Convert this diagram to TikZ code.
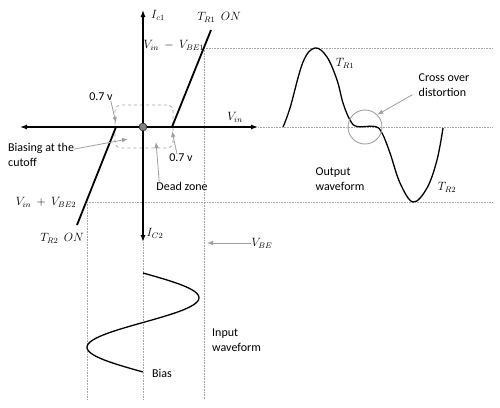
\documentclass[tikz,border=0pt]{standalone}
\usepackage[no-math]{fontspec}
\setmainfont{Carlito}
\usepackage{tikz}
\usetikzlibrary{arrows.meta}
\usetikzlibrary{shapes}
\tikzstyle{axis}=[draw=black, line width=1.2pt, {Latex[length=7pt,width=5pt]}-{Latex[length=7pt,width=5pt]}]
\tikzstyle{guide}=[draw=gray!70, densely dotted, line width=0.6pt]
\tikzstyle{pointer}=[->, >={Latex[length=6pt,width=4.5pt]}, draw=gray!75, line width=0.8pt]
\tikzstyle{curve}=[draw=black, line width=1.3pt]
\tikzstyle{txt}=[font=\fontsize{12}{15}\selectfont, align=left, inner sep=0pt]
\tikzstyle{lbl}=[font=\fontsize{12}{14}\selectfont, inner sep=0pt]

\begin{document}
\begin{tikzpicture}[x=1pt, y=-1pt]
\useasboundingbox (0,0) rectangle (500,407);

\coordinate (O) at (143,127);
\coordinate (Ytop) at (143,10);
\coordinate (Ybot) at (143,242);
\coordinate (Xleft) at (20,127);
\coordinate (Xright) at (258,127);
\coordinate (cutL) at (116,127);
\coordinate (cutR) at (172,127);
\coordinate (TRoneEnd) at (211,30);
\coordinate (TRtwoEnd) at (77,225);
\coordinate (hiL) at (204,48);
\coordinate (hiR) at (493,48);
\coordinate (midR) at (493,127);
\coordinate (loL) at (87,202);
\coordinate (loR) at (493,202);
\coordinate (hiB) at (204,399);
\coordinate (loB) at (87,399);
\coordinate (axB) at (143,399);
\coordinate (biasTip) at (128,139);
\coordinate (deadTip) at (156,142);
\coordinate (vbeTip) at (207,243);

\path[guide] (hiL) -- (hiR);
\path[guide] (Xright) -- (midR);
\path[guide] (loL) -- (loR);
\path[guide] (hiL) -- (hiB);
\path[guide] (loL) -- (loB);
\path[guide] (Ybot) -- (axB);

\node[draw=gray!70, dashed, rounded corners=6pt, line width=0.8pt, minimum width=58pt, minimum height=43pt](deadbox) at (144,126.5){};

\path[axis] (Xleft) -- (Xright);
\path[axis] (Ytop) -- (Ybot);
\path[draw, line width=2.6pt] (cutL) -- (cutR);
\path[draw, line width=1.8pt] (cutR) -- (TRoneEnd);
\path[draw, line width=1.8pt] (cutL) -- (TRtwoEnd);
\node[circle, draw=black, fill=gray, inner sep=0pt, minimum size=8pt](origin) at (O){};

\node[lbl](Icone) at (158,15){$I_{c1}$};
\node[lbl](TRoneOn) at (219,17){$T_{R1}\ \ ON$};
\node[lbl](VinMinus) at (174,45){$V_{in}\ -\ V_{BE1}$};
\node[lbl](Vin) at (235,117){$V_{in}$};
\node[lbl](VinPlus) at (46,202){$V_{in}\ +\ V_{BE2}$};
\node[lbl](TRtwoOn) at (62,238){$T_{R2}\ \ ON$};
\node[lbl](Ictwo) at (155,233){$I_{C2}$};
\node[lbl](VBE) at (262,243){$V_{BE}$};

\node[txt](zerosevenA) at (101,97){0.7 v};
\node[txt](zerosevenB) at (181,158){0.7 v};
\node[txt, anchor=west](biasing) at (8,155){Biasing at the\\cutoff};
\node[txt](deadzone) at (182,186){Dead zone};

\path[pointer] ([xshift=-2pt]zerosevenA.south east) -- ([yshift=4pt]cutL);
\path[pointer] ([yshift=-6pt]biasing.north east) -- (biasTip);
\path[pointer] ([xshift=-4pt]zerosevenB.north) -- ([yshift=-4pt]cutR);
\path[pointer] ([xshift=3pt]deadzone.north west) -- (deadTip);
\path[pointer] (VBE.west) -- (vbeTip);

\path[curve] plot[smooth, tension=0.6] coordinates {(283,127) (290,108) (303,62) (315,48) (327,57) (337,80) (343,103) (350,120) (357,126.5) (375,126.5) (382,133) (390,153) (400,183) (413,202) (427,188) (437,160) (443,128)};
\node[circle, draw=gray!75, line width=0.9pt, minimum size=34pt, inner sep=0pt](xover) at (365,127){};

\node[lbl](TRoneW) at (345,63){$T_{R1}$};
\node[lbl](TRtwoW) at (447,187){$T_{R2}$};
\node[txt](cross) at (444,85){Cross over\\distortion};
\node[txt](output) at (340,179){Output\\waveform};
\path[pointer] ([xshift=-6pt,yshift=2pt]cross.south west) -- (xover.north east);

\path[curve] plot[domain=0:1, samples=60, smooth] ({143+56*sin(360*\x)}, {273+99*\x});
\node[txt, anchor=west](input) at (212,340){Input\\waveform};
\node[txt](bias) at (162,373){Bias};

\end{tikzpicture}
\end{document}
